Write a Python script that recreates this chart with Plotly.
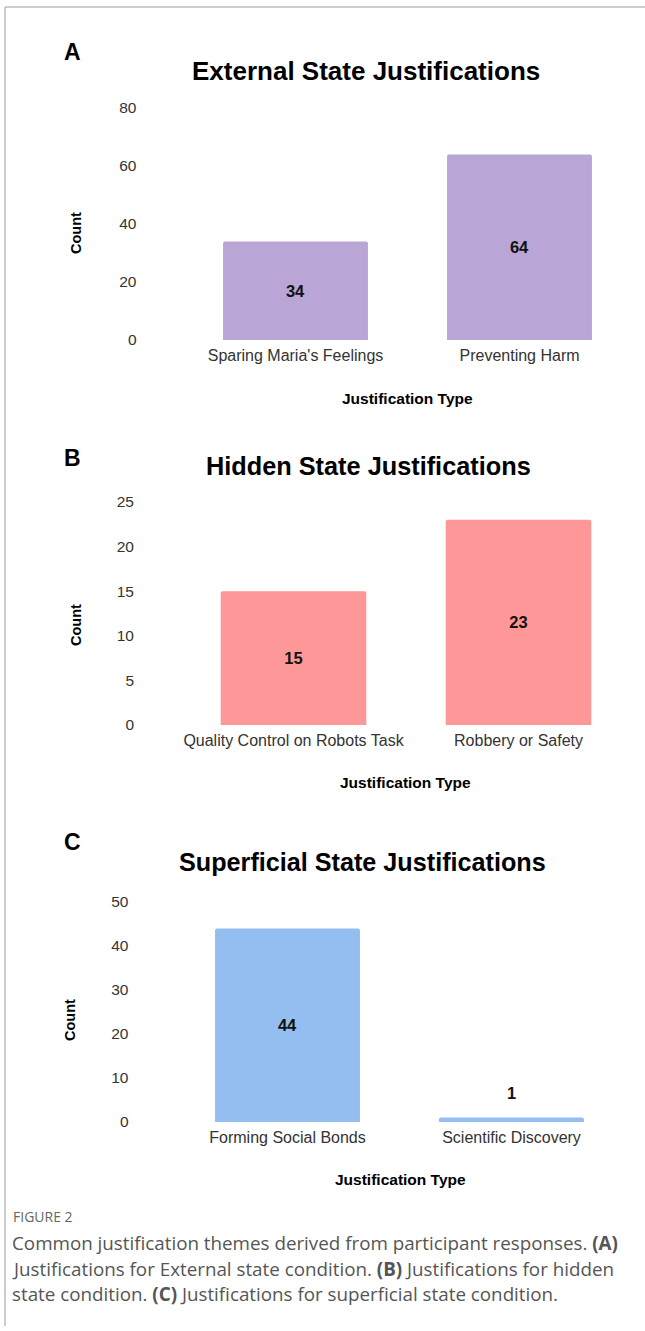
import plotly.graph_objects as go

W, H = 645, 1331

# ---- data ----
ext_categories = ["Sparing Maria's Feelings", "Preventing Harm"]
ext_counts = [34, 64]
hid_categories = ["Quality Control on Robots Task", "Robbery or Safety"]
hid_counts = [15, 23]
sup_categories = ["Forming Social Bonds", "Scientific Discovery"]
sup_counts = [44, 1]

panel_titles = ["External State Justifications", "Hidden State Justifications",
                "Superficial State Justifications"]
panel_letters = ["A", "B", "C"]
colors = ["#B9A6D6", "#FE9797", "#94BEF0"]

def px(x):
    return x / W

def py(y):
    return 1 - y / H

fig = go.Figure()

panels = [
    (ext_categories, ext_counts, 183.5, 631.5, 340, 108, 80, 20),
    (hid_categories, hid_counts, 181, 631, 725, 502, 25, 5),
    (sup_categories, sup_counts, 175.5, 623.5, 1122, 902, 50, 10),
]

tick_font = dict(family="Liberation Sans, Arial", size=15.5, color="#333333")
xtick_font = dict(family="Liberation Sans, Arial", size=16, color="#333333")
bold = "Liberation Sans, Arial"
label_font = dict(family=bold, size=16.5, color="#111111", weight="bold")

for i, (cats, vals, x0, x1, yb, yt, ymax, dt) in enumerate(panels):
    n = "" if i == 0 else str(i + 1)
    small = [v <= 3 for v in vals]
    fig.add_trace(go.Bar(
        x=cats, y=vals, xaxis="x" + n, yaxis="y" + n,
        marker=dict(color=colors[i], line=dict(width=0), cornerradius=2),
        texttemplate=["" if s else "%{y}" for s in small],
        textposition="inside", insidetextanchor="middle",
        textfont=label_font,
        cliponaxis=False, showlegend=False, hoverinfo="skip",
    ))
    if any(small):
        sx = [c for c, s in zip(cats, small) if s]
        sy = [v for v, s in zip(vals, small) if s]
        fig.add_trace(go.Scatter(
            x=sx, y=sy, xaxis="x" + n, yaxis="y" + n, mode="markers+text",
            text=[str(v) for v in sy], textposition="top center",
            marker=dict(size=22, opacity=0), textfont=label_font,
            cliponaxis=False, showlegend=False, hoverinfo="skip",
        ))
    fig.layout["xaxis" + n] = dict(
        domain=[px(x0), px(x1)], anchor="y" + n, range=[-0.5, 1.5],
        showgrid=False, zeroline=False, showline=False, ticks="",
        tickfont=xtick_font, ticklabelstandoff=4, automargin=False,
    )
    fig.layout["yaxis" + n] = dict(
        domain=[py(yb), py(yt)], anchor="x" + n, range=[0, ymax], dtick=dt,
        showgrid=False, zeroline=False, showline=False, ticks="",
        tickfont=tick_font, ticklabelstandoff=46, automargin=False,
    )

ann = []
letter_pos = [(72, 52), (72, 458), (72, 842)]
title_pos = [(366, 71), (368, 466), (362, 862)]
title_size = [26, 25.3, 25.2]
count_pos = [(76, 233), (76, 625), (70, 1020)]
xt_pos = [(407, 399), (405, 782), (400, 1179)]
for i in range(3):
    ann.append(dict(text=panel_letters[i], x=px(letter_pos[i][0]), y=py(letter_pos[i][1]),
                    font=dict(family=bold, size=23, color="#000", weight="bold")))
    ann.append(dict(text=panel_titles[i], x=px(title_pos[i][0]), y=py(title_pos[i][1]),
                    font=dict(family=bold, size=title_size[i], color="#000", weight="bold")))
    ann.append(dict(text="Count", x=px(count_pos[i][0]), y=py(count_pos[i][1]), textangle=-90,
                    font=dict(family=bold, size=14.5, color="#000", weight="bold")))
    ann.append(dict(text="Justification Type", x=px(xt_pos[i][0]), y=py(xt_pos[i][1]),
                    font=dict(family=bold, size=15.5, color="#000", weight="bold")))
for a in ann:
    a.update(xref="paper", yref="paper", xanchor="center", yanchor="middle", showarrow=False)

cap_font = "Open Sans, Lato, sans-serif"
ann.append(dict(text="FIGURE 2", x=px(11), y=py(1216), xref="paper", yref="paper",
                xanchor="left", yanchor="middle", showarrow=False,
                font=dict(family=cap_font, size=14, color="#666666")))
cap_lines = [
    "Common justification themes derived from participant responses. <b>(A)</b>",
    "Justifications for External state condition. <b>(B)</b> Justifications for hidden",
    "state condition. <b>(C)</b> Justifications for superficial state condition.",
]
for k, line in enumerate(cap_lines):
    ann.append(dict(text=line, x=px(10), y=py(1243 + 25.5 * k), xref="paper", yref="paper",
                    xanchor="left", yanchor="middle", showarrow=False,
                    font=dict(family=cap_font, size=18.8, color="#555555")))

shapes = [
    dict(type="line", xref="paper", yref="paper", x0=px(5), x1=1, y0=py(7), y1=py(7),
         line=dict(color="#BBBBBB", width=1.5)),
    dict(type="line", xref="paper", yref="paper", x0=px(5), x1=px(5), y0=py(7), y1=py(1326),
         line=dict(color="#BBBBBB", width=1.5)),
]

fig.update_layout(
    width=W, height=H, margin=dict(l=0, r=0, t=0, b=0, pad=0, autoexpand=False),
    paper_bgcolor="white", plot_bgcolor="white",
    bargap=0.353, annotations=ann, shapes=shapes,
    font=dict(family="Liberation Sans, Arial"),
    title=dict(text=""),
)

fig.write_html(
    "out.html",
    config={"displayModeBar": False, "staticPlot": True},
    post_script=(
        "document.documentElement.style.margin='0';"
        "document.documentElement.style.overflow='hidden';"
        "document.body.style.margin='0';document.body.style.padding='0';"
        "document.body.style.overflow='hidden';"
        "var gd=document.getElementById('{plot_id}');"
        "gd.style.position='fixed';gd.style.left='0px';gd.style.top='0px';"
    ),
)
